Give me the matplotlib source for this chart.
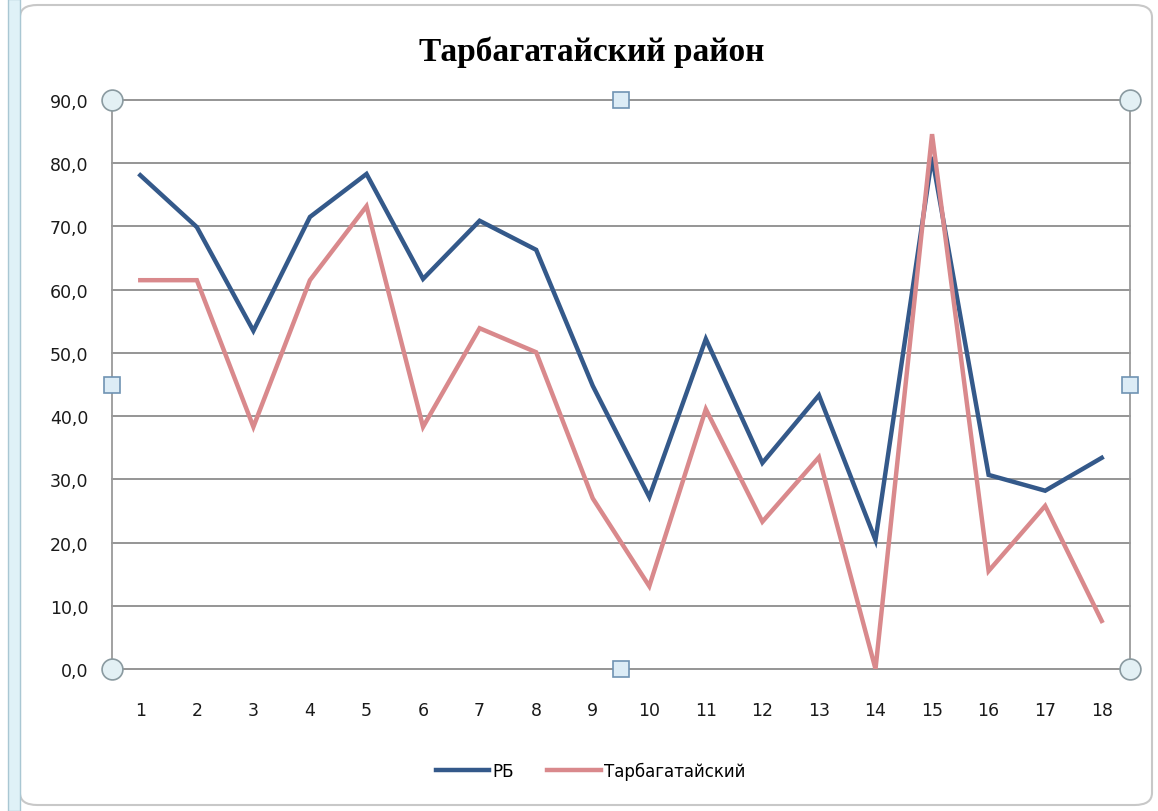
"""
Line chart: Тарбагатайский район vs РБ over 18 items.
"""
import matplotlib.pyplot as plt
from matplotlib.patches import FancyBboxPatch, Rectangle

# Category labels along the x axis.
CATEGORIES = [str(i) for i in range(1, 19)]

# Series values.
RB = [78.1, 69.9, 53.5, 71.5, 78.3, 61.7, 70.9, 66.3, 44.8,
      27.2, 52.2, 32.6, 43.3, 20.4, 81.0, 30.7, 28.2, 33.4]
TARBAGATAI = [61.5, 61.5, 38.3, 61.5, 73.2, 38.3, 53.9, 50.1, 27.0,
              13.1, 41.1, 23.3, 33.5, 0.0, 84.6, 15.5, 25.8, 7.6]

Y_TICKS = [0, 10, 20, 30, 40, 50, 60, 70, 80, 90]

BLUE = "#34598a"
PINK = "#d9898c"
GRID = "#8c8c8c"


def main() -> None:
    fig = plt.figure(figsize=(11.58, 8.12), dpi=100)
    W, H = 1158, 812

    # Outer chart frame and the left window band
    fig.patches.append(FancyBboxPatch((20 / W, 6 / H), 1132 / W, 800 / H,
                                      boxstyle="round,pad=0,rounding_size=0.015",
                                      transform=fig.transFigure, facecolor="none",
                                      edgecolor="#c8c8c8", linewidth=1.5, zorder=0))
    fig.patches.append(Rectangle((8 / W, 0), 12 / W, 1, transform=fig.transFigure,
                                 facecolor="#dff1f7", edgecolor="#a9c7d3",
                                 linewidth=1.0, zorder=0))

    ax = fig.add_axes([112 / W, 1 - 670 / H, (1130 - 112) / W, (670 - 101) / H])
    ax.set_facecolor("none")
    ax.set_zorder(2)

    x = list(range(len(CATEGORIES)))
    ax.plot(x, RB, color=BLUE, linewidth=3.2, label="РБ", zorder=3,
            solid_joinstyle="miter")
    ax.plot(x, TARBAGATAI, color=PINK, linewidth=3.2, label="Тарбагатайский",
            zorder=4, solid_joinstyle="miter")

    ax.set_xlim(-0.5, len(CATEGORIES) - 0.5)
    ax.set_ylim(0, 90)
    ax.set_xticks(x)
    ax.set_xticklabels(CATEGORIES)
    ax.set_yticks(Y_TICKS)
    ax.set_yticklabels([f"{v:.1f}".replace(".", ",") for v in Y_TICKS])
    ax.tick_params(axis="both", length=0, labelsize=12.5, colors="#1a1a1a")
    ax.tick_params(axis="y", pad=17)
    ax.tick_params(axis="x", pad=23)

    ax.grid(axis="y", color=GRID, linewidth=1.3)
    for line in ax.get_ygridlines():
        line.set_clip_on(False)
    ax.set_axisbelow(True)
    for side in ("top", "bottom"):
        ax.spines[side].set_visible(False)
    for side in ("left", "right"):
        ax.spines[side].set_color("#9a9a9a")
        ax.spines[side].set_linewidth(1.3)

    # Selection handles
    for hx, hy in ((0, 0), (0, 1), (1, 0), (1, 1)):
        ax.plot(hx, hy, marker="o", markersize=15, markerfacecolor="#e3f0f4",
                markeredgecolor="#8a9aa0", markeredgewidth=1.2,
                transform=ax.transAxes, clip_on=False, zorder=6)
    for hx, hy in ((0, 0.5), (1, 0.5), (0.5, 0), (0.5, 1)):
        ax.plot(hx, hy, marker="s", markersize=11, markerfacecolor="#dcecf6",
                markeredgecolor="#6f93b3", markeredgewidth=1.2,
                transform=ax.transAxes, clip_on=False, zorder=6)

    fig.text(0.511, 1 - 52 / H, "Тарбагатайский район", ha="center", va="center",
             fontsize=24, fontweight="bold", family="Liberation Serif")

    fig.legend(*ax.get_legend_handles_labels(), loc="center",
               bbox_to_anchor=(0.51, 1 - 772 / H), ncol=2,
               frameon=False, fontsize=12, handlelength=3.2, handletextpad=0.2,
               columnspacing=2.0)

    fig.savefig("out.png", dpi=100)
    plt.close(fig)


if __name__ == "__main__":
    main()
